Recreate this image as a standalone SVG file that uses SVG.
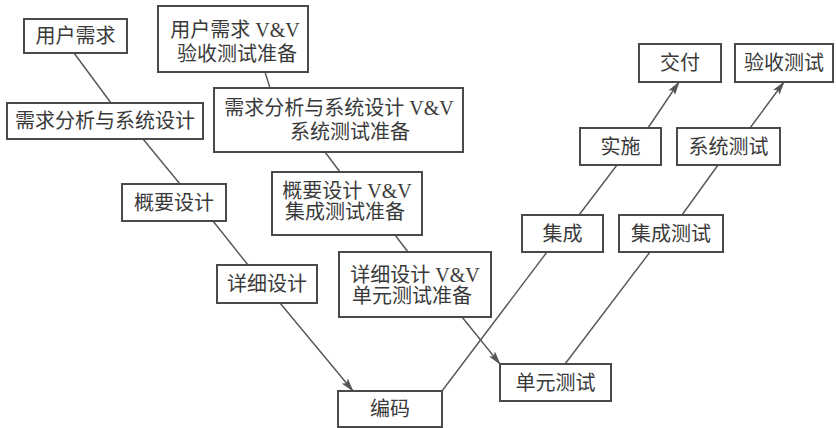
<svg xmlns="http://www.w3.org/2000/svg" width="836" height="428" viewBox="0 0 836 428">
<style>
.box{fill:#fff;stroke:#4a4a4a;stroke-width:2}
.t{font-family:"Liberation Serif","Noto Sans CJK SC",serif;font-size:20px;fill:#3a3a3a;text-anchor:middle}
.c{stroke:#555;stroke-width:1.4;fill:none}
</style>
<defs>
<marker id="ah" viewBox="0 0 14 8" refX="13" refY="4" markerWidth="14" markerHeight="8" markerUnits="userSpaceOnUse" orient="auto">
<path d="M0,0 L14,4 L0,8 L3,4 Z" fill="#555"/>
</marker>
</defs>
<rect width="836" height="428" fill="#fff"/>
<g id="connectors">
<line class="c" x1="74" y1="53" x2="111" y2="103"/>
<line class="c" x1="265" y1="72" x2="270" y2="88"/>
<line class="c" x1="143" y1="139" x2="180" y2="184"/>
<line class="c" x1="325" y1="152" x2="340" y2="172"/>
<line class="c" x1="213" y1="221" x2="248" y2="265"/>
<line class="c" x1="395" y1="235" x2="408" y2="252"/>
<line class="c" x1="280" y1="303" x2="353" y2="391" marker-end="url(#ah)"/>
<line class="c" x1="462" y1="317" x2="500" y2="364" marker-end="url(#ah)"/>
<line class="c" x1="442" y1="391" x2="547" y2="252"/>
<line class="c" x1="565" y1="364" x2="650" y2="252"/>
<line class="c" x1="579" y1="215" x2="617" y2="165"/>
<line class="c" x1="682" y1="215" x2="718" y2="165"/>
<line class="c" x1="648" y1="128" x2="679" y2="82" marker-end="url(#ah)"/>
<line class="c" x1="750" y1="128" x2="784" y2="82" marker-end="url(#ah)"/>
</g>
<g id="n-user-req"><rect class="box" x="24" y="19" width="103" height="34"/><text class="t" x="75.5" y="43">用户需求</text></g>
<g id="n-user-vv"><rect class="box" x="158" y="6" width="150" height="66"/><text class="t" x="235" y="37">用户需求 V&amp;V</text><text class="t" x="237" y="61">验收测试准备</text></g>
<g id="n-req-sys"><rect class="box" x="7" y="103" width="196" height="36"/><text class="t" x="105" y="128">需求分析与系统设计</text></g>
<g id="n-req-vv"><rect class="box" x="214" y="88" width="249" height="64"/><text class="t" x="339" y="115">需求分析与系统设计 V&amp;V</text><text class="t" x="350" y="139">系统测试准备</text></g>
<g id="n-prelim"><rect class="box" x="122" y="184" width="104" height="37"/><text class="t" x="174" y="209.5">概要设计</text></g>
<g id="n-prelim-vv"><rect class="box" x="272" y="172" width="150" height="63"/><text class="t" x="347" y="198">概要设计 V&amp;V</text><text class="t" x="345" y="219">集成测试准备</text></g>
<g id="n-detail"><rect class="box" x="217" y="265" width="100" height="38"/><text class="t" x="267" y="291">详细设计</text></g>
<g id="n-detail-vv"><rect class="box" x="339" y="252" width="152" height="65"/><text class="t" x="415" y="282">详细设计 V&amp;V</text><text class="t" x="412" y="303">单元测试准备</text></g>
<g id="n-code"><rect class="box" x="338" y="391" width="104" height="36"/><text class="t" x="390" y="416">编码</text></g>
<g id="n-unit-test"><rect class="box" x="500" y="364" width="111" height="37"/><text class="t" x="555.5" y="389.5">单元测试</text></g>
<g id="n-integrate"><rect class="box" x="522" y="215" width="81" height="37"/><text class="t" x="562.5" y="240.5">集成</text></g>
<g id="n-int-test"><rect class="box" x="619" y="215" width="104" height="37"/><text class="t" x="671" y="240.5">集成测试</text></g>
<g id="n-implement"><rect class="box" x="580" y="128" width="81" height="37"/><text class="t" x="620.5" y="153.5">实施</text></g>
<g id="n-sys-test"><rect class="box" x="677" y="128" width="103" height="37"/><text class="t" x="728.5" y="153.5">系统测试</text></g>
<g id="n-deliver"><rect class="box" x="639" y="44" width="82" height="38"/><text class="t" x="680" y="70">交付</text></g>
<g id="n-accept-test"><rect class="box" x="735" y="44" width="98" height="38"/><text class="t" x="784" y="70">验收测试</text></g>
</svg>
